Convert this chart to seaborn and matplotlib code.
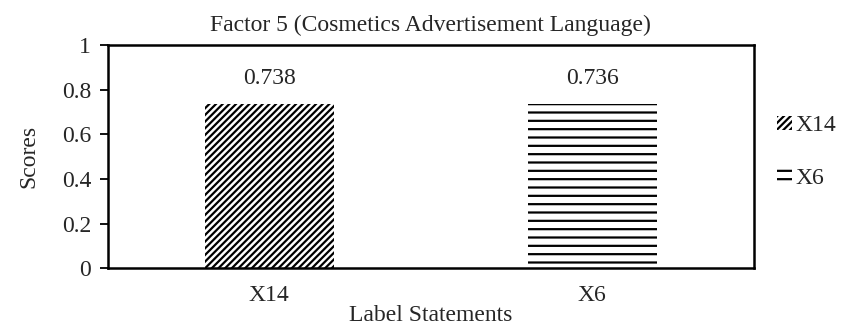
import matplotlib
matplotlib.use("Agg")
import matplotlib.pyplot as plt
import seaborn as sns
import pandas as pd
from matplotlib.patches import Patch

# data
statements = ["X14", "X6"]
scores = [0.738, 0.736]
hatches = ["/////", "--"]

df = pd.DataFrame({"statement": statements, "score": scores})

sns.set_style("white")
plt.rcParams["font.family"] = ["Liberation Serif", "DejaVu Serif"]
plt.rcParams["hatch.linewidth"] = 1.6
fs = 17

fig, ax = plt.subplots(figsize=(8.48, 3.29), dpi=100)
ax = sns.barplot(data=df, x="statement", y="score", color="white", width=0.4,
                 edgecolor="none", ax=ax)

for bar, h in zip(ax.patches, hatches):
    bar.set_hatch(h)
    bar.set_edgecolor("black")
    bar.set_linewidth(0)

for bar, v in zip(ax.patches, scores):
    ax.text(bar.get_x() + bar.get_width() / 2, v + 0.065, f"{v:.3f}",
            ha="center", va="bottom", fontsize=fs)

ax.set_ylim(0, 1)
ax.set_yticks([0, 0.2, 0.4, 0.6, 0.8, 1])
ax.set_yticklabels(["0", "0.2", "0.4", "0.6", "0.8", "1"])
ax.set_xlabel("Label Statements", fontsize=fs, labelpad=-1)
ax.set_ylabel("Scores", fontsize=fs, labelpad=16)
ax.set_title("Factor 5 (Cosmetics Advertisement Language)", fontsize=fs, pad=10)
ax.tick_params(axis="y", which="both", left=True, length=6, width=1.3,
               labelsize=fs, direction="out", color="black", pad=6)
ax.tick_params(axis="x", bottom=False, labelsize=fs, pad=9)
for s in ax.spines.values():
    s.set_visible(True)
    s.set_color("black")
    s.set_linewidth(1.8)

handles = [Patch(facecolor="white", edgecolor="black", linewidth=0, hatch=h)
           for h in hatches]
ax.legend(handles, statements, loc="center left", bbox_to_anchor=(1.0, 0.52),
          frameon=False, fontsize=fs, handlelength=0.6, handleheight=0.55,
          handletextpad=0.15, labelspacing=1.35, borderaxespad=0.6)

fig.subplots_adjust(left=0.127, right=0.889, top=0.863, bottom=0.185)
fig.savefig("out.png", dpi=100)
